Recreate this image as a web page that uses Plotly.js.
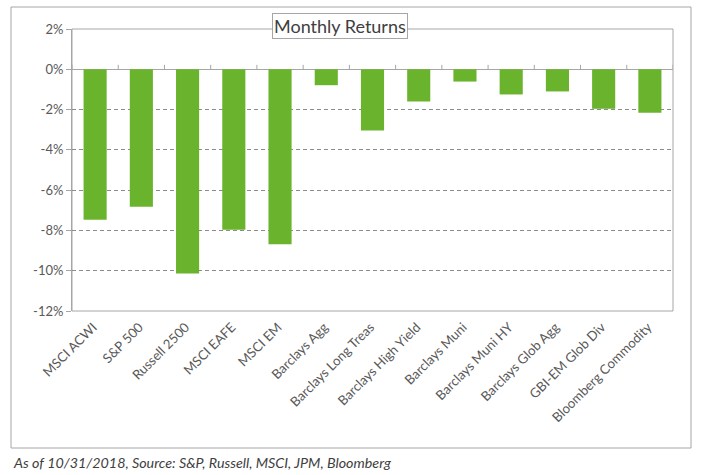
<!DOCTYPE html>
<html>
<head>
<meta charset="utf-8">
<script src="https://cdn.plot.ly/plotly-3.0.1.min.js"></script>
<style>html,body{margin:0;padding:0;background:#fff;}#chart{width:701px;height:475px;}</style>
</head>
<body>
<div id="chart"></div>
<script>
var categories = ["MSCI ACWI","S&P 500","Russell 2500","MSCI EAFE","MSCI EM","Barclays Agg","Barclays Long Treas","Barclays High Yield","Barclays Muni","Barclays Muni HY","Barclays Glob Agg","GBI-EM Glob Div","Bloomberg Commodity"];
var monthlyReturns = [-7.47,-6.83,-10.14,-7.97,-8.68,-0.79,-3.04,-1.60,-0.61,-1.25,-1.10,-1.96,-2.16];
var yTicks = [-12,-10,-8,-6,-4,-2,0,2];
var yTickLabels = ["-12%","-10%","-8%","-6%","-4%","-2%","0%","2%"];
var chartTitle = "Monthly Returns";
var footnote = "As of 10/31/2018, Source: S&P, Russell, MSCI, JPM, Bloomberg";

var FONT = "Lato, 'Open Sans', sans-serif";
var W = 701, H = 475;
var M = {l:72, r:28, t:29, b:164};
var pw = W - M.l - M.r, ph = H - M.t - M.b;
function px2x(p){ return (p - M.l)/pw; }
function px2y(p){ return (H - M.b - p)/ph; }

var shapes = [];
// plot area border
shapes.push({type:'rect', xref:'paper', yref:'paper', x0:0, x1:1, y0:0, y1:1, line:{color:'#a6a6a6', width:1}, layer:'below'});
// outer chart border
shapes.push({type:'rect', xref:'paper', yref:'paper', x0:px2x(11), x1:px2x(691), y0:px2y(448), y1:px2y(7), line:{color:'#a6a6a6', width:1}});
// category tick marks on the zero line
for (var i = 0; i <= categories.length; i++) {
  shapes.push({type:'line', xref:'x', yref:'y', x0:i-0.5, x1:i-0.5, y0:0, y1:0.22, line:{color:'#a6a6a6', width:1}});
}

var trace = {
  type:'bar',
  x: categories.map(function(c,i){return i;}),
  y: monthlyReturns,
  marker:{color:'#6ab42d', line:{width:0}},
  hoverinfo:'none'
};

var layout = {
  width:W, height:H,
  margin:M,
  paper_bgcolor:'#fff', plot_bgcolor:'#fff',
  font:{family:FONT, color:'#595959', size:13},
  showlegend:false,
  bargap:0.5,
  xaxis:{
    range:[-0.5, categories.length-0.5],
    tickmode:'array', tickvals:categories.map(function(c,i){return i;}), ticktext:categories,
    tickangle:-45, showgrid:false, zeroline:false, showline:false, ticks:'',
    ticklabelstandoff:5, ticklabelshift:-2,
    tickfont:{family:FONT, size:13.2, color:'#595959'},
    fixedrange:true
  },
  yaxis:{
    range:[-12, 2],
    tickmode:'array', tickvals:yTicks, ticktext:yTickLabels,
    showgrid:true, gridcolor:'#8c8c8c', griddash:'4px,3px', gridwidth:1,
    zeroline:true, zerolinecolor:'#a6a6a6', zerolinewidth:1,
    showline:true, linecolor:'#a6a6a6', linewidth:1,
    ticks:'outside', ticklen:5, tickcolor:'#a6a6a6',
    tickfont:{family:FONT, size:13, color:'#595959'},
    fixedrange:true
  },
  shapes:shapes,
  annotations:[
    {xref:'paper', yref:'paper', x:px2x(340), y:px2y(26.5), xanchor:'center', yanchor:'middle',
     text:chartTitle, showarrow:false, font:{family:FONT, size:18, color:'#404040'},
     bgcolor:'#ffffff', bordercolor:'#a6a6a6', borderwidth:1, borderpad:1},
    {xref:'paper', yref:'paper', x:px2x(11), y:px2y(462), xanchor:'left', yanchor:'middle',
     text:'<i>'+footnote+'</i>', showarrow:false, font:{family:FONT, size:14.3, color:'#404040'}}
  ]
};

Plotly.newPlot('chart', [trace], layout, {displayModeBar:false, staticPlot:true});
</script>
</body>
</html>
